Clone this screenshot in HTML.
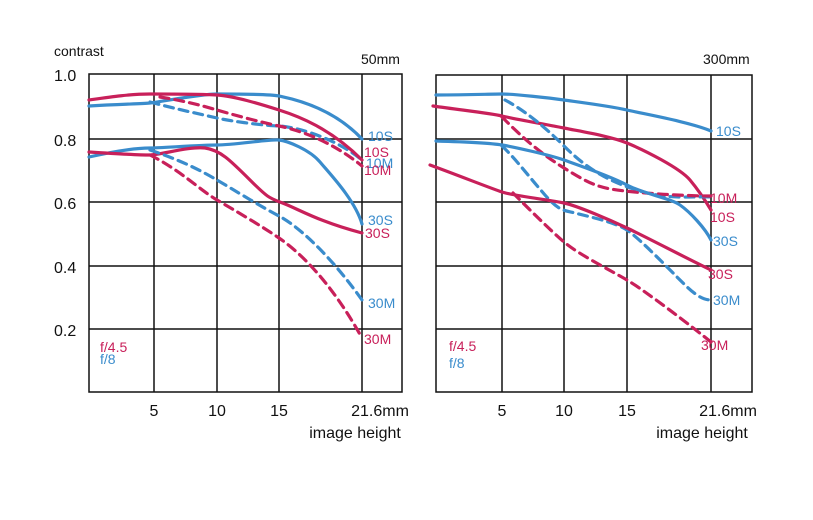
<!DOCTYPE html>
<html><head><meta charset="utf-8"><style>
body{margin:0;background:#fff;}
svg{display:block;font-family:"Liberation Sans",sans-serif;}
</style></head><body>
<svg width="813" height="520" viewBox="0 0 813 520">
<rect width="813" height="520" fill="#fff"/>
<g stroke="#111" stroke-width="1.5" fill="none">
<rect x="89" y="74" width="313" height="318"/>
<path d="M154 74V392M217 74V392M279 74V392M362 74V392M89 139H402M89 202H402M89 266H402M89 329H402"/>
<rect x="436" y="75" width="316" height="317"/>
<path d="M502 75V392M564 75V392M627 75V392M711 75V392M436 139H752M436 202H752M436 266H752M436 329H752"/>
</g>
<g font-size="14" fill="#111">
<text x="54" y="56">contrast</text>
<text x="54" y="81" font-size="16">1.0</text>
<text x="54" y="146" font-size="16">0.8</text>
<text x="54" y="209" font-size="16">0.6</text>
<text x="54" y="273" font-size="16">0.4</text>
<text x="54" y="336" font-size="16">0.2</text>
<text x="361" y="64">50mm</text>
<text x="703" y="64">300mm</text>
<g font-size="16" text-anchor="middle">
<text x="154" y="416">5</text><text x="217" y="416">10</text><text x="279" y="416">15</text><text x="380" y="416">21.6mm</text>
<text x="502" y="416">5</text><text x="564" y="416">10</text><text x="627" y="416">15</text><text x="728" y="416">21.6mm</text>
<text x="355" y="438">image height</text><text x="702" y="438">image height</text>
</g>
</g>
<g fill="none" stroke-width="3.2" stroke-linecap="round">
<!-- left -->
<path stroke="#3a8ccc" d="M89 106 C120 104,140 104,150 103 S200 94,217 94 S270 94,279 96 S330 105,362 139"/>
<path stroke="#3a8ccc" stroke-dasharray="9 6" d="M150 102 C180 110,200 114,217 118 S270 126,279 126 S330 134,362 160"/>
<path stroke="#c8205a" d="M89 100 C110 97,130 94,150 94 S200 94,217 95 S260 104,279 110 S330 128,362 160"/>
<path stroke="#c8205a" stroke-dasharray="9 6" d="M160 97 C180 100,200 105,217 110 S260 122,279 126 S330 140,362 166"/>
<path stroke="#3a8ccc" d="M89 157 C120 150,140 148,150 148 S200 145,217 145 S270 139,279 140 S310 150,320 162 S355 200,362 224"/>
<path stroke="#c8205a" d="M89 152 C120 154,140 155,150 155 S190 146,205 148 S230 160,250 180 S270 198,285 204 S320 222,362 233"/>
<path stroke="#3a8ccc" stroke-dasharray="9 6" d="M150 150 C180 160,200 170,217 180 S260 206,279 216 S330 255,362 300"/>
<path stroke="#c8205a" stroke-dasharray="9 6" d="M150 155 C180 170,200 190,217 200 S260 225,279 238 S330 280,362 338"/>
<!-- right -->
<path stroke="#3a8ccc" d="M436 95 C470 95,490 94,502 94 S550 98,564 100 S610 106,627 110 S690 122,711 131"/>
<path stroke="#c8205a" d="M433 106 C460 110,490 113,502 116 S550 125,564 128 S610 136,627 143 S680 168,690 180 S708 205,711 210"/>
<path stroke="#3a8ccc" stroke-dasharray="9 6" d="M505 100 C520 108,540 122,564 146 S610 182,640 191 S690 196,711 197"/>
<path stroke="#c8205a" stroke-dasharray="9 6" d="M502 117 C515 130,535 150,564 168 S600 188,625 191 S690 196,711 196"/>
<path stroke="#3a8ccc" d="M436 141 C470 142,490 143,502 145 S550 155,564 160 S610 176,627 185 S670 198,680 205 S705 228,711 240"/>
<path stroke="#3a8ccc" stroke-dasharray="9 6" d="M502 146 C515 158,530 178,545 195 S564 210,575 213 S615 222,627 230 S670 270,680 280 S700 300,711 300"/>
<path stroke="#c8205a" d="M430 165 C460 176,490 188,502 192 S550 200,564 203 S610 220,627 228 S690 260,711 270"/>
<path stroke="#c8205a" stroke-dasharray="9 6" d="M513 193 C530 210,550 230,564 242 S610 270,627 280 S690 325,711 342"/>
</g>
<g font-size="14">
<text x="368" y="141" fill="#3a8ccc">10S</text>
<text x="364" y="157" fill="#c8205a">10S</text>
<text x="366" y="168" fill="#3a8ccc">10M</text>
<text x="364" y="175" fill="#c8205a">10M</text>
<text x="368" y="225" fill="#3a8ccc">30S</text>
<text x="365" y="238" fill="#c8205a">30S</text>
<text x="368" y="308" fill="#3a8ccc">30M</text>
<text x="364" y="344" fill="#c8205a">30M</text>
<text x="100" y="352" fill="#c8205a">f/4.5</text>
<text x="100" y="364" fill="#3a8ccc">f/8</text>
<text x="716" y="136" fill="#3a8ccc">10S</text>
<text x="710" y="203" fill="#c8205a">10M</text>
<text x="710" y="222" fill="#c8205a">10S</text>
<text x="713" y="246" fill="#3a8ccc">30S</text>
<text x="708" y="279" fill="#c8205a">30S</text>
<text x="713" y="305" fill="#3a8ccc">30M</text>
<text x="701" y="350" fill="#c8205a">30M</text>
<text x="449" y="351" fill="#c8205a">f/4.5</text>
<text x="449" y="368" fill="#3a8ccc">f/8</text>
</g>
</svg>
</body></html>
